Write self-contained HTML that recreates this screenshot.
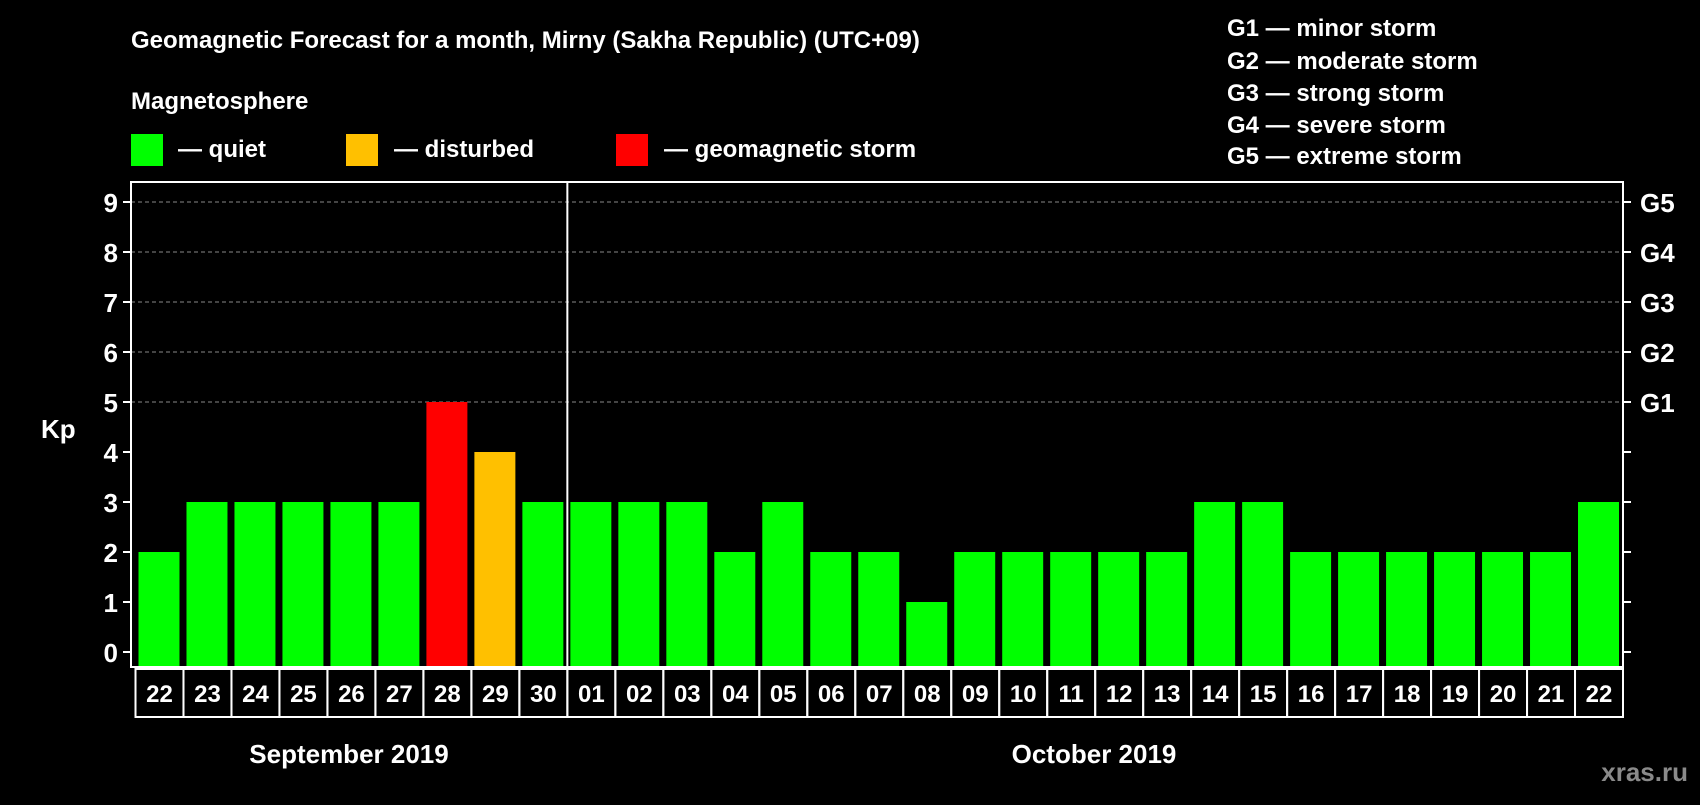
<!DOCTYPE html>
<html><head><meta charset="utf-8"><style>
body{margin:0;background:#000;width:1700px;height:800px;overflow:hidden}
svg text{font-family:"Liberation Sans",Arial,sans-serif;font-weight:bold;fill:#fff}
</style></head><body>
<svg id="c" width="1700" height="800" xmlns="http://www.w3.org/2000/svg">
<text x="131" y="48" font-size="24">Geomagnetic Forecast for a month, Mirny (Sakha Republic) (UTC+09)</text>
<text x="131" y="109" font-size="24">Magnetosphere</text>
<rect x="131" y="134" width="32" height="32" fill="#00ff00"/>
<text x="178" y="157" font-size="24">— quiet</text>
<rect x="346" y="134" width="32" height="32" fill="#ffc000"/>
<text x="394" y="157" font-size="24">— disturbed</text>
<rect x="616" y="134" width="32" height="32" fill="#ff0000"/>
<text x="664" y="157" font-size="24">— geomagnetic storm</text>
<g font-size="24">
<text x="1227" y="36">G1 — minor storm</text>
<text x="1227" y="69">G2 — moderate storm</text>
<text x="1227" y="101">G3 — strong storm</text>
<text x="1227" y="133">G4 — severe storm</text>
<text x="1227" y="164">G5 — extreme storm</text>
</g>
<text x="41" y="438" font-size="26">Kp</text>
<g id="plot"></g>
<text x="349" y="763" font-size="26" text-anchor="middle">September 2019</text>
<text x="1094" y="763" font-size="26" text-anchor="middle">October 2019</text>
<text x="1688" y="781" font-size="26" text-anchor="end" style="fill:#8a8a8a">xras.ru</text>
</svg>
<script>
const days=["22","23","24","25","26","27","28","29","30","01","02","03","04","05","06","07","08","09","10","11","12","13","14","15","16","17","18","19","20","21","22"];
const kpValues=[2,3,3,3,3,3,5,4,3,3,3,3,2,3,2,2,1,2,2,2,2,2,3,3,2,2,2,2,2,2,3];
const yTicks=[0,1,2,3,4,5,6,7,8,9];
const gLabels=["G1","G2","G3","G4","G5"];
const NS="http://www.w3.org/2000/svg";
const g=document.getElementById('plot');
const L=131,R=1623,T=182,B=667,X0=135.5,Y0=652,YU=50;
const cw=(R-X0)/days.length;
const y=v=>Y0-v*YU;
const x=i=>X0+i*cw;
function mk(t,a){const e=document.createElementNS(NS,t);for(const k in a)e.setAttribute(k,a[k]);g.appendChild(e);return e;}
yTicks.forEach(v=>{
 if(v>=5){const l=mk('line',{x1:L,x2:R,y1:y(v),y2:y(v),stroke:'#888','stroke-dasharray':'4,3','stroke-width':1});
 
 }
 const tl=mk('line',{x1:L-8,x2:L,y1:y(v),y2:y(v),stroke:'#fff','stroke-width':2});
 
 
 const tr=mk('line',{x1:R,x2:R+8,y1:y(v),y2:y(v),stroke:'#fff','stroke-width':2});
 
 
 const t=mk('text',{x:L-13,y:y(v)+10,'font-size':26,'text-anchor':'end'});t.textContent=v;
 
 
});
gLabels.forEach((s,i)=>{const t=mk('text',{x:R+17,y:y(i+5)+10,'font-size':26});t.textContent=s;
 
 });
kpValues.forEach((v,i)=>{
 const col=v>=5?'#ff0000':(v>=4?'#ffc000':'#00ff00');
 const b=mk('rect',{x:x(i)+3,y:y(v),width:cw-7,height:B-y(v),fill:col});
 
 
 const c=mk('rect',{x:x(i),y:669,width:cw,height:48,fill:'none',stroke:'#fff','stroke-width':2});
 
 
 const t=mk('text',{x:x(i)+cw/2,y:702,'font-size':24,'text-anchor':'middle'});t.textContent=days[i];
 
 
});
const box=mk('rect',{x:L,y:T,width:R-L,height:B-T,fill:'none',stroke:'#fff','stroke-width':2});


const dv=mk('line',{x1:x(9),x2:x(9),y1:T,y2:B,stroke:'#fff','stroke-width':2});


</script>
</body></html>
